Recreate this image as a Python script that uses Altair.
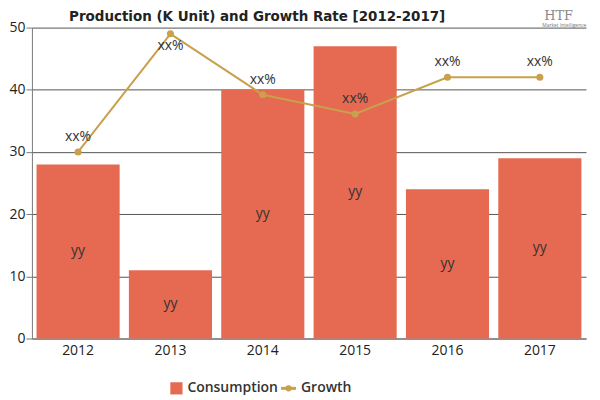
import altair as alt
import pandas as pd

years = ["2012", "2013", "2014", "2015", "2016", "2017"]
consumption = [28, 11, 40, 47, 24, 29]
growth = [30, 49, 39.2, 36.1, 42, 42]
bar_labels = ["yy"] * 6
growth_labels = ["xx%"] * 6
label_below = [False, True, False, False, False, False]
title_text = "Production (K Unit) and Growth Rate [2012-2017]"

df = pd.DataFrame({
    "year": years,
    "consumption": consumption,
    "half": [v / 2 for v in consumption],
    "growth": growth,
    "bar_label": bar_labels,
    "growth_label": growth_labels,
    "below": label_below,
})

BAR = "#E66A51"
LINE = "#C9A04C"
FONT = "Open Sans"

x = alt.X("year:N", title=None, scale=alt.Scale(paddingInner=0.1, paddingOuter=0.05),
          axis=alt.Axis(labelAngle=0, labelFontSize=14, labelColor="#222", labelFont=FONT,
                        domainColor="#777", labelPadding=5, ticks=False))
yscale = alt.Scale(domain=[0, 50])

base = alt.Chart(df)

bars = base.mark_bar(color=BAR).encode(
    x=x,
    y=alt.Y("consumption:Q", title=None, scale=yscale,
            axis=alt.Axis(values=[0, 10, 20, 30, 40, 50], labelFontSize=14, labelColor="#222",
                          labelFont=FONT, grid=True, gridColor="#555", gridOpacity=1,
                          domainColor="#777", tickColor="#777", tickSize=6, labelPadding=1)),
)

bar_text = base.mark_text(fontSize=14, font=FONT, color="#333").encode(
    x=x, y=alt.Y("half:Q", scale=yscale), text="bar_label:N")

line = base.mark_line(color=LINE, strokeWidth=2).encode(
    x=x, y=alt.Y("growth:Q", scale=yscale))
pts = base.mark_circle(color=LINE, size=50, opacity=1).encode(
    x=x, y=alt.Y("growth:Q", scale=yscale))
line_text_up = base.transform_filter("!datum.below").mark_text(
    fontSize=14, font=FONT, color="#333", dy=-15).encode(
    x=x, y=alt.Y("growth:Q", scale=yscale), text="growth_label:N")
line_text_dn = base.transform_filter("datum.below").mark_text(
    fontSize=14, font=FONT, color="#333", dy=12).encode(
    x=x, y=alt.Y("growth:Q", scale=yscale), text="growth_label:N")

# manual legend
LY = 362
leg_sq = alt.Chart(pd.DataFrame({"k": ["Consumption"]})).mark_square(
    color=BAR, size=150, opacity=1).encode(x=alt.value(145), y=alt.value(LY))
leg_t1 = alt.Chart(pd.DataFrame({"k": ["Consumption"]})).mark_text(
    align="left", baseline="middle", fontSize=14, font=FONT, fontWeight=600, color="#333"
).encode(x=alt.value(156), y=alt.value(LY), text="k:N")
leg_ln = alt.Chart(pd.DataFrame({"k": ["Growth"]})).mark_rule(
    color=LINE, strokeWidth=3).encode(x=alt.value(250), x2=alt.value(265), y=alt.value(LY))
leg_pt = alt.Chart(pd.DataFrame({"k": ["Growth"]})).mark_circle(
    color=LINE, size=40, opacity=1).encode(x=alt.value(257.5), y=alt.value(LY))
leg_t2 = alt.Chart(pd.DataFrame({"k": ["Growth"]})).mark_text(
    align="left", baseline="middle", fontSize=14, font=FONT, fontWeight=600, color="#333"
).encode(x=alt.value(270), y=alt.value(LY), text="k:N")

title = alt.Chart(pd.DataFrame({"k": [title_text]})).mark_text(
    align="center", baseline="middle", fontSize=15, font="DejaVu Sans Condensed",
    fontWeight="bold", color="#222"
).encode(x=alt.value(226), y=alt.value(-12), text="k:N")
logo = alt.Chart(pd.DataFrame({"k": ["HTF"]})).mark_text(
    align="left", baseline="middle", fontSize=13, font="DejaVu Serif", color="#8a8a8a"
).encode(x=alt.value(514), y=alt.value(-12), text="k:N")
logo2 = alt.Chart(pd.DataFrame({"k": ["Market Intelligence"]})).mark_text(
    align="left", baseline="middle", fontSize=5, font=FONT, color="#777"
).encode(x=alt.value(512), y=alt.value(-3), text="k:N")

chart = alt.layer(bars, bar_text, line, pts, line_text_up, line_text_dn,
                  leg_sq, leg_t1, leg_ln, leg_pt, leg_t2, title, logo, logo2).properties(
    width=556, height=312,
    padding={"left": 0, "top": 0, "right": 5, "bottom": 0},
).configure_view(stroke=None)

chart.save("out.html", embed_options={"renderer": "svg", "actions": False})
